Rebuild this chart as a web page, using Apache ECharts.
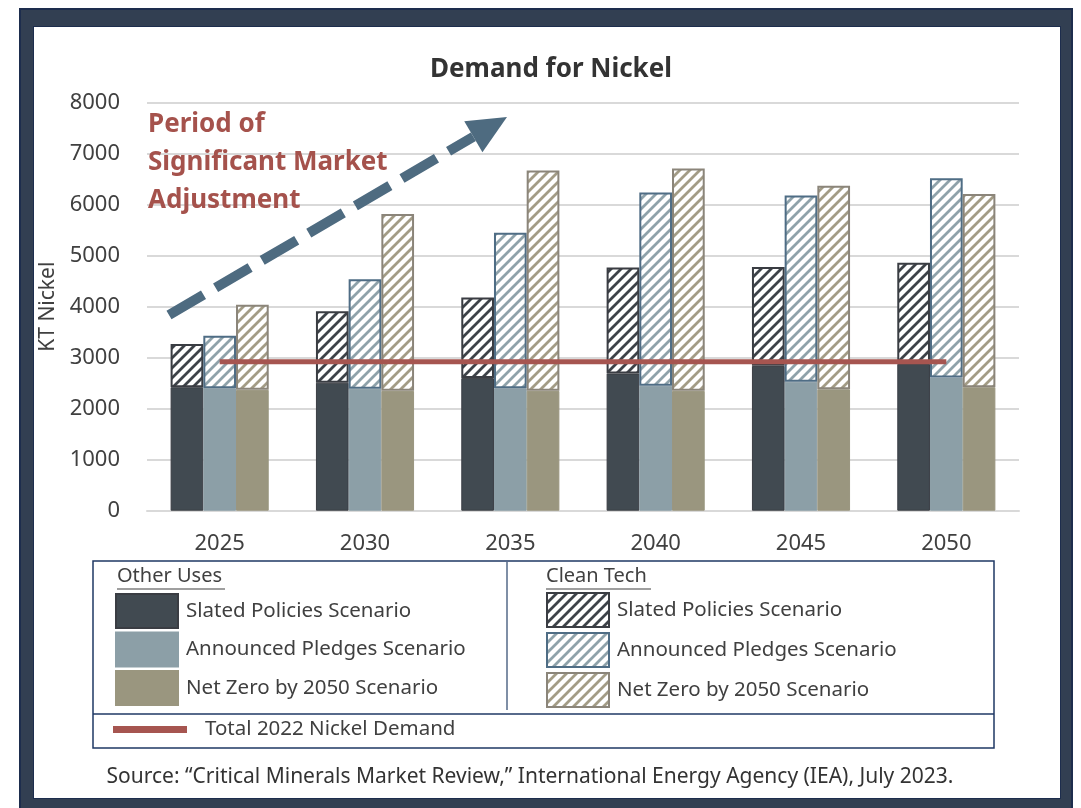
<!DOCTYPE html>
<html>
<head>
<meta charset="utf-8">
<script src="https://cdn.jsdelivr.net/npm/echarts@6.0.0/dist/echarts.min.js"></script>
<style>
  html, body { margin: 0; padding: 0; background: #fff; }
  #frame { position: absolute; left: 19px; top: 8px; width: 1054px; height: 820px; background: #323f52; box-sizing: border-box; border: 2px solid #1d2d4d; }
  #inner { position: absolute; left: 33px; top: 26px; width: 1028px; height: 773px; background: #fff; border: 1px solid #1d2d4d; box-sizing: border-box; }
  #chart { position: absolute; left: 0; top: 0; width: 1081px; height: 808px; }
</style>
</head>
<body>
<div id="frame"></div>
<div id="inner"></div>
<div id="chart"></div>
<script>
// ===== data (KT Nickel) =====
const years = ['2025', '2030', '2035', '2040', '2045', '2050'];
// Other uses (solid)
const otherSteps = [2420, 2510, 2600, 2690, 2840, 2880];
const otherAps   = [2400, 2390, 2400, 2450, 2530, 2610];
const otherNze   = [2370, 2350, 2350, 2350, 2380, 2420];
// Clean tech (hatched, stacked on top)
const cleanSteps = [850, 1400, 1580, 2080, 1940, 1980];
const cleanAps   = [1030, 2150, 3050, 3790, 3650, 3910];
const cleanNze   = [1670, 3470, 4320, 4360, 3990, 3790];
// total 2022 demand line
const demand2022 = [2920, 2920, 2920, 2920, 2920, 2920];
const yTicks = { min: 0, max: 8000, interval: 1000 };

const LABELS = {
    oSteps: 'Slated Policies Scenario',
    oAps: 'Announced Pledges Scenario',
    oNze: 'Net Zero by 2050 Scenario',
    cSteps: 'Slated Policies Scenario',
    cAps: 'Announced Pledges Scenario',
    cNze: 'Net Zero by 2050 Scenario',
    demand: 'Total 2022 Nickel Demand'
};

// ===== colours =====
const C = {
    steps: '#414a51', stepsLine: '#3a3d43',
    aps: '#8c9fa7', apsLine: '#4f6d85',
    nze: '#9a967f', nzeLine: '#8b857a',
    red: '#a65550',
    arrow: '#4e6b80',
    text: '#404040',
    grid: '#d9d9d9',
    navy: '#1f3864'
};
const FONT = '"Noto Sans", sans-serif';

// 斜线填充
function hatch(color) {
    const c = document.createElement('canvas');
    c.width = 10; c.height = 10;
    const g = c.getContext('2d');
    g.fillStyle = '#ffffff';
    g.fillRect(0, 0, 10, 10);
    g.strokeStyle = color;
    g.lineWidth = 2.8;
    g.beginPath();
    g.moveTo(-2, 12); g.lineTo(12, -2);
    g.moveTo(-7, 7); g.lineTo(7, -7);
    g.moveTo(3, 17); g.lineTo(17, 3);
    g.stroke();
    return { image: c, repeat: 'repeat' };
}

const chart = echarts.init(document.getElementById('chart'));

const BAR_W = 32.7;
function solid(key, data, stack, fill, line) {
    return {
        name: key, type: 'bar', stack: stack, data: data,
        barWidth: BAR_W, barGap: '0%',
        itemStyle: { color: fill, borderColor: line, borderWidth: 1 }
    };
}
function hatched(key, data, stack, stripe, line) {
    return {
        name: key, type: 'bar', stack: stack, data: data,
        barWidth: BAR_W, barGap: '0%',
        itemStyle: { color: hatch(stripe), borderColor: line, borderWidth: 2 }
    };
}

const legendText = { fontFamily: FONT, fontSize: 20.5, color: C.text, padding: [0, 0, 0, 3] };

// ===== 箭头 =====
const tail = [169, 315], tip = [507, 117];
const dx = tip[0] - tail[0], dy = tip[1] - tail[1];
const len = Math.sqrt(dx * dx + dy * dy);
const ux = dx / len, uy = dy / len;
const headLen = 39, headHalf = 18;
const base = [tip[0] - ux * headLen, tip[1] - uy * headLen];

const option = {
    animation: false,
    textStyle: { fontFamily: FONT },
    grid: { left: 147, right: 62, top: 102.7, bottom: 297.3 },
    xAxis: {
        type: 'category', data: years,
        axisLine: { lineStyle: { color: C.grid, width: 2 } },
        axisTick: { show: false },
        axisLabel: { fontSize: 22, color: C.text, margin: 22, fontFamily: FONT }
    },
    yAxis: {
        type: 'value', min: yTicks.min, max: yTicks.max, interval: yTicks.interval,
        name: 'KT Nickel', nameLocation: 'middle', nameRotate: 90, nameGap: 85,
        nameTextStyle: { fontSize: 21, color: C.text, fontFamily: FONT },
        axisLine: { show: false }, axisTick: { show: false },
        axisLabel: { fontSize: 22, color: C.text, margin: 27, fontFamily: FONT, formatter: v => String(v) },
        splitLine: { lineStyle: { color: C.grid, width: 2 } }
    },
    legend: [
        {
            data: ['oSteps', 'oAps', 'oNze'], orient: 'vertical', left: 115, top: 593,
            padding: 0, itemWidth: 62, itemHeight: 34, itemGap: 2.5, icon: 'rect',
            selectedMode: false, formatter: n => LABELS[n], textStyle: legendText
        },
        {
            data: ['cSteps', 'cAps', 'cNze'], orient: 'vertical', left: 546, top: 592,
            padding: 0, itemWidth: 62, itemHeight: 34, itemGap: 4, icon: 'rect',
            selectedMode: false, formatter: n => LABELS[n], textStyle: legendText
        },
        {
            data: ['demand'], left: 113, top: 719, padding: 0, itemWidth: 74, itemHeight: 7,
            icon: 'rect', selectedMode: false, formatter: n => LABELS[n],
            textStyle: { fontFamily: FONT, fontSize: 20.5, color: C.text, padding: [0, 0, 0, 13] }
        }
    ],
    series: [
        solid('oSteps', otherSteps, 'steps', C.steps, C.stepsLine),
        hatched('cSteps', cleanSteps, 'steps', '#3d4248', C.stepsLine),
        solid('oAps', otherAps, 'aps', C.aps, C.aps),
        hatched('cAps', cleanAps, 'aps', '#8fa2aa', C.apsLine),
        solid('oNze', otherNze, 'nze', C.nze, C.nze),
        hatched('cNze', cleanNze, 'nze', '#a39c86', C.nzeLine),
        {
            name: 'demand', type: 'line', data: demand2022, symbol: 'none', z: 5,
            lineStyle: { color: C.red, width: 5 }, itemStyle: { color: C.red }
        }
    ],
    graphic: [
        // 标题
        { type: 'text', x: 551, y: 70, style: { text: 'Demand for Nickel', font: 'bold 26px ' + FONT, fill: '#333333', align: 'center', verticalAlign: 'middle' } },
        // 注释文字（盖住网格线）
        { type: 'text', left: 148, top: 106, z: 20, style: { text: 'Period of\nSignificant Market\nAdjustment', font: 'bold 26px ' + FONT, fill: '#a5524c', lineHeight: 38 } },
        // 虚线箭头
        { type: 'line', shape: { x1: tail[0], y1: tail[1], x2: base[0], y2: base[1] },
          style: { stroke: C.arrow, lineWidth: 10, lineDash: [40, 14], lineCap: 'butt' }, z: 10 },
        { type: 'polygon', shape: { points: [tip,
            [base[0] - uy * headHalf, base[1] + ux * headHalf],
            [base[0] + uy * headHalf, base[1] - ux * headHalf]] },
          style: { fill: C.arrow }, z: 10 },
        // 图例框
        { type: 'rect', shape: { x: 93, y: 561, width: 901, height: 187 }, style: { fill: 'none', stroke: C.navy, lineWidth: 1.5 } },
        { type: 'line', shape: { x1: 93, y1: 714, x2: 994, y2: 714 }, style: { stroke: C.navy, lineWidth: 1.5 } },
        { type: 'line', shape: { x1: 507, y1: 562, x2: 507, y2: 710 }, style: { stroke: '#7f8fa6', lineWidth: 2 } },
        { type: 'text', left: 117, top: 566, style: { text: 'Other Uses', font: '20px ' + FONT, fill: C.text } },
        { type: 'line', shape: { x1: 117, y1: 589, x2: 225, y2: 589 }, style: { stroke: C.text, lineWidth: 1.2 } },
        { type: 'text', left: 546, top: 566, style: { text: 'Clean Tech', font: '20px ' + FONT, fill: C.text } },
        { type: 'line', shape: { x1: 546, y1: 589, x2: 651, y2: 589 }, style: { stroke: C.text, lineWidth: 1.2 } },
        // 来源
        { type: 'text', x: 530, y: 777, style: { text: 'Source: \u201cCritical Minerals Market Review,\u201d International Energy Agency (IEA), July 2023.', font: '21px ' + FONT, fill: '#333333', align: 'center', verticalAlign: 'middle' } }
    ]
};
chart.setOption(option);
</script>
</body>
</html>
